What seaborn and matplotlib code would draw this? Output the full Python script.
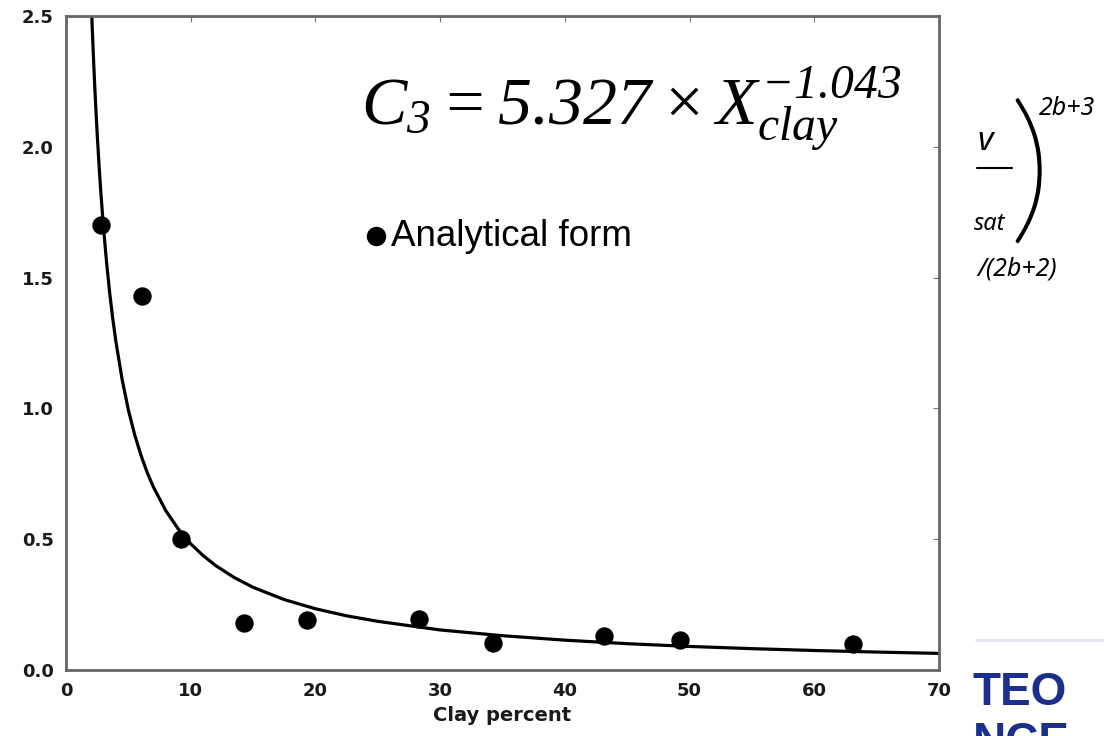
import numpy as np
import pandas as pd
import seaborn as sns
import matplotlib.pyplot as plt
import matplotlib.patheffects as pe

# measured points (clay percent, C3)
clay_pts = [2.8, 6.1, 9.2, 14.3, 19.3, 28.3, 34.2, 43.1, 49.2, 63.1]
c3_pts = [1.70, 1.43, 0.50, 0.18, 0.19, 0.195, 0.105, 0.13, 0.115, 0.10]

# fitted curve
curve_x = [2.05, 2.1, 2.2, 2.3, 2.4, 2.5, 2.65, 2.8, 3.0, 3.25, 3.5, 3.75, 4.0,
           4.5, 5.0, 5.5, 6.0, 6.5, 7.0, 8.0, 9.0, 10.0, 11.0, 12.0, 13.5, 15.0,
           17.5, 20.0, 22.5, 25.0, 30.0, 35.0, 40.0, 45.0, 50.0, 55.0, 60.0,
           65.0, 70.0]
curve_y = [2.52, 2.457, 2.341, 2.235, 2.138, 2.049, 1.928, 1.820, 1.694, 1.558,
           1.442, 1.342, 1.255, 1.110, 0.994, 0.900, 0.822, 0.756, 0.700, 0.609,
           0.539, 0.482, 0.437, 0.399, 0.353, 0.316, 0.269, 0.234, 0.207, 0.186,
           0.153, 0.131, 0.114, 0.1005, 0.090, 0.0815, 0.0745, 0.0685, 0.0634]

x_ticks = [0, 10, 20, 30, 40, 50, 60, 70]
y_ticks = [0.0, 0.5, 1.0, 1.5, 2.0, 2.5]

sns.set_style("white")
plt.rcParams['font.family'] = ['Liberation Sans', 'DejaVu Sans']
plt.rcParams['mathtext.fontset'] = 'custom'
plt.rcParams['mathtext.it'] = 'Liberation Serif:italic'
plt.rcParams['mathtext.rm'] = 'Liberation Serif:italic'

fig = plt.figure(figsize=(11.04, 7.36), dpi=100)
ax = fig.add_axes([0.0598, 0.0897, 0.7908, 0.8886])

pts = pd.DataFrame({"clay": clay_pts, "c3": c3_pts})
fit = pd.DataFrame({"clay": curve_x, "c3": curve_y})

sns.lineplot(data=fit, x="clay", y="c3", ax=ax, color="black", lw=2.3,
             estimator=None, sort=False)
sns.scatterplot(data=pts, x="clay", y="c3", ax=ax, color="black", s=150,
                edgecolor="black", zorder=5)

# scanned-look axis labels: wide bold font
scan = dict(family=["DejaVu Sans"], fontweight="bold", color="#1a1a1a")
ax.set_xlim(0, 70)
ax.set_ylim(0, 2.5)
ax.set_xticks(x_ticks)
ax.set_yticks(y_ticks)
ax.set_xticklabels([str(t) for t in x_ticks], fontsize=13, **scan)
ax.set_yticklabels([f"{t:.1f}" for t in y_ticks], fontsize=13, **scan)
ax.tick_params(direction="in", length=4, color="#777777", top=True, right=True,
               pad=9)
ax.set_xlabel("Clay percent", fontsize=14, labelpad=4, **scan)
ax.set_ylabel("")
for s in ax.spines.values():
    s.set_color("#666666")
    s.set_linewidth(2)

# formula and bullet text
fig.text(0.327, 0.83, r"$C_{3} = 5.327\times X_{clay}^{-1.043}$",
         fontsize=49, color="black")
fig.add_artist(plt.Line2D([376 / 1104], [1 - 236 / 736], marker="o",
                          markersize=13, color="black", lw=0))
fig.text(0.354, 0.679, "Analytical form", fontsize=26.5, color="black",
         va="center")

# partial slide content on the right
side = dict(family=["Noto Sans", "DejaVu Sans"], style="italic", color="black")
fig.text(977 / 1104, 1 - 150 / 736, "v", fontsize=24, **side)
fig.add_artist(plt.Line2D([977 / 1104, 1012 / 1104], [1 - 168 / 736, 1 - 168 / 736],
                          color="black", lw=1.5))
fig.text(974 / 1104, 1 - 230 / 736, "sat", fontsize=17, **side)
fig.text(1010 / 1104, 1 - 178 / 736, ")", fontsize=118, color="black",
         family=["Lato", "DejaVu Sans"], fontweight="light", va="center",
         path_effects=[pe.withStroke(linewidth=1.6, foreground="black")])
fig.text(1039 / 1104, 1 - 115 / 736, "2b+3", fontsize=18, **side)
fig.text(977 / 1104, 1 - 276 / 736, "/(2b+2)", fontsize=18, **side)

fig.add_artist(plt.Line2D([0.884, 1.0], [0.131, 0.131], color="#e4e4f2", lw=2))
logo = dict(fontsize=33, fontweight="bold", color="#1c2f8c")
fig.text(0.881, 0.042, "TEO", **logo)
fig.text(0.881, -0.026, "NCE", **logo)

fig.savefig("out.png", dpi=100)
